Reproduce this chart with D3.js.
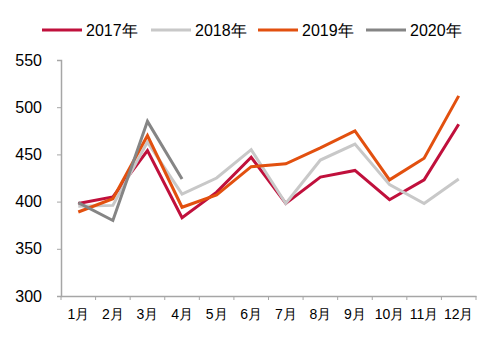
<!DOCTYPE html>
<html><head><meta charset="utf-8">
<script src="https://cdn.jsdelivr.net/npm/d3@7"></script>
<style>body{margin:0;background:#fff}svg{display:block}</style>
</head><body><svg id="c" width="503" height="341"></svg>
<script>
const months = ["1月","2月","3月","4月","5月","6月","7月","8月","9月","10月","11月","12月"];
const yTicks = [300,350,400,450,500,550];
const seriesNames = ["2017年","2018年","2019年","2020年"];
const seriesColors = ["#C0103C","#C8C8C8","#E2500F","#858585"];
const v2017 = [398,405,454,383,410,447,398,426,433,402,423,482];
const v2018 = [395,396,463,408,425,455,398,444,461,418,398,424];
const v2019 = [389,403,470,394,407,437,440,457,475,423,446,512];
const v2020 = [399,380,485,424];
const seriesValues = [v2017,v2018,v2019,v2020];

const svg = d3.select("#c");
const font = "'Liberation Sans', Arial, sans-serif";
const x = d3.scaleBand().domain(months).range([61,476]);
const y = d3.scaleLinear().domain([300,550]).range([296,60]);

// y axis
const ya = svg.append("g").attr("transform","translate(61,0)")
  .call(d3.axisLeft(y).tickValues(yTicks).tickSize(4).tickPadding(15));
ya.select(".domain").attr("stroke","#A6A6A6").attr("stroke-width",1.5);
ya.selectAll(".tick line").attr("stroke","#A6A6A6");
ya.selectAll("text").attr("font-family",font).attr("font-size",16).attr("fill","#000");

// x axis
const xa = svg.append("g").attr("transform","translate(0,296)")
  .call(d3.axisBottom(x).tickSize(0).tickPadding(13));
xa.select(".domain").attr("stroke","#A6A6A6").attr("stroke-width",1.5);
xa.selectAll("text").attr("font-family",font).attr("font-size",14).attr("fill","#000");
const edges = months.map(m=>x(m)).concat([x.range()[1]]);
xa.selectAll(".edge").data(edges).enter().append("line")
  .attr("x1",d=>d).attr("x2",d=>d).attr("y1",0).attr("y2",4)
  .attr("stroke","#A6A6A6");

const line = d3.line().x((d,i)=>x(months[i])+x.bandwidth()/2).y(d=>y(d));
seriesValues.forEach((vals,k)=>{
  svg.append("path").datum(vals).attr("d",line)
    .attr("fill","none").attr("stroke",seriesColors[k]).attr("stroke-width",3)
    .attr("stroke-linejoin","miter");
});

// legend
const legX = [42,151,258,366];
seriesNames.forEach((n,k)=>{
  const g = svg.append("g").attr("transform",`translate(${legX[k]},30)`);
  g.append("line").attr("x1",0).attr("x2",40).attr("y1",0).attr("y2",0)
    .attr("stroke",seriesColors[k]).attr("stroke-width",3);
  g.append("text").attr("x",44).attr("y",6).text(n)
    .attr("font-family",font).attr("font-size",16).attr("fill","#000");
});
</script></body></html>
